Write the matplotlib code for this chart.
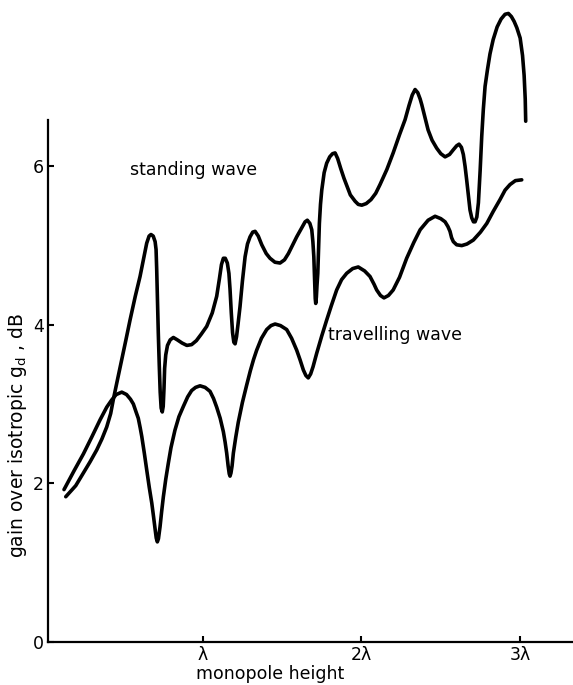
import matplotlib
matplotlib.use("Agg")
import matplotlib.pyplot as plt

# monopole height in wavelengths, gain in dB
standing_x = [0.137, 0.20, 0.248, 0.29, 0.332, 0.365, 0.395, 0.42, 0.437, 0.46,
              0.49, 0.515, 0.542, 0.575, 0.605, 0.628, 0.647, 0.662, 0.674, 0.688,
              0.700, 0.706, 0.710, 0.715, 0.720, 0.726, 0.732, 0.738, 0.745, 0.751,
              0.756, 0.760, 0.767, 0.778, 0.795, 0.815, 0.84, 0.87, 0.90, 0.93,
              0.96, 0.99, 1.025, 1.06, 1.088, 1.105, 1.118, 1.13, 1.142, 1.155,
              1.165, 1.172, 1.180, 1.188, 1.196, 1.204, 1.213, 1.222, 1.235, 1.25,
              1.267, 1.282, 1.298, 1.315, 1.33, 1.35, 1.372, 1.40, 1.424, 1.455,
              1.487, 1.515, 1.54, 1.565, 1.592, 1.625, 1.645, 1.659, 1.675, 1.687,
              1.694, 1.70, 1.705, 1.709, 1.712, 1.716, 1.720, 1.725, 1.730, 1.735,
              1.742, 1.75, 1.765, 1.781, 1.80, 1.818, 1.834, 1.85, 1.87, 1.89,
              1.907, 1.93, 1.96, 1.98, 2.002, 2.03, 2.06, 2.09, 2.117, 2.16,
              2.20, 2.24, 2.275, 2.30, 2.32, 2.338, 2.355, 2.37, 2.38, 2.40,
              2.42, 2.445, 2.474, 2.50, 2.527, 2.555, 2.579, 2.60, 2.615, 2.63,
              2.642, 2.653, 2.663, 2.674, 2.684, 2.695, 2.706, 2.716, 2.727, 2.737,
              2.748, 2.758, 2.768, 2.779, 2.794, 2.81, 2.83, 2.855, 2.88, 2.905,
              2.926, 2.945, 2.962, 2.979, 3.00, 3.015, 3.025, 3.032, 3.035]
standing_y = [1.83, 1.97, 2.13, 2.27, 2.42, 2.56, 2.71, 2.88, 3.06, 3.28,
              3.56, 3.80, 4.06, 4.36, 4.61, 4.84, 5.03, 5.12, 5.14, 5.12,
              5.05, 4.95, 4.70, 4.30, 3.90, 3.50, 3.15, 2.95, 2.90, 2.97,
              3.20, 3.45, 3.62, 3.74, 3.81, 3.84, 3.81, 3.77, 3.74, 3.75,
              3.80, 3.88, 3.98, 4.15, 4.36, 4.58, 4.76, 4.84, 4.84, 4.78,
              4.65, 4.45, 4.15, 3.90, 3.78, 3.76, 3.85, 4.00, 4.23, 4.55,
              4.86, 5.02, 5.11, 5.17, 5.18, 5.12, 5.01, 4.90, 4.84, 4.79,
              4.78, 4.82, 4.90, 5.00, 5.11, 5.23, 5.30, 5.32, 5.28, 5.20,
              5.05, 4.86, 4.55, 4.33, 4.27, 4.35, 4.50, 4.65, 4.95, 5.28,
              5.52, 5.70, 5.92, 6.04, 6.12, 6.16, 6.17, 6.10, 5.97, 5.85,
              5.76, 5.64, 5.56, 5.52, 5.51, 5.53, 5.58, 5.66, 5.77, 5.96,
              6.17, 6.40, 6.59, 6.77, 6.90, 6.97, 6.93, 6.85, 6.78, 6.62,
              6.46, 6.33, 6.23, 6.16, 6.12, 6.15, 6.21, 6.26, 6.28, 6.24,
              6.15, 6.00, 5.83, 5.63, 5.45, 5.35, 5.30, 5.30, 5.36, 5.54,
              5.95, 6.38, 6.72, 7.01, 7.22, 7.42, 7.60, 7.76, 7.86, 7.92,
              7.93, 7.89, 7.83, 7.75, 7.62, 7.40, 7.15, 6.85, 6.57]

travelling_x = [0.126, 0.19, 0.248, 0.30, 0.353, 0.395, 0.426, 0.455, 0.49, 0.52,
                0.545, 0.563, 0.58, 0.594, 0.606, 0.616, 0.632, 0.647, 0.663, 0.679,
                0.690, 0.70, 0.707, 0.714, 0.721, 0.731, 0.741, 0.752, 0.767, 0.783,
                0.80, 0.825, 0.85, 0.878, 0.905, 0.93, 0.955, 0.983, 1.015, 1.046,
                1.068, 1.088, 1.11, 1.13, 1.141, 1.151, 1.16, 1.167, 1.172, 1.178,
                1.185, 1.193, 1.208, 1.224, 1.25, 1.277, 1.30, 1.32, 1.34, 1.37,
                1.403, 1.43, 1.456, 1.49, 1.529, 1.56, 1.592, 1.613, 1.634, 1.65,
                1.665, 1.68, 1.695, 1.718, 1.75, 1.781, 1.81, 1.844, 1.875, 1.907,
                1.945, 1.98, 2.02, 2.054, 2.08, 2.096, 2.12, 2.142, 2.17, 2.20,
                2.24, 2.285, 2.33, 2.37, 2.42, 2.464, 2.50, 2.527, 2.545, 2.558,
                2.568, 2.579, 2.60, 2.632, 2.665, 2.705, 2.75, 2.79, 2.83, 2.873,
                2.905, 2.936, 2.97, 3.01]
travelling_y = [1.92, 2.16, 2.37, 2.58, 2.80, 2.96, 3.05, 3.12, 3.15, 3.12,
                3.06, 3.00, 2.90, 2.82, 2.70, 2.59, 2.38, 2.17, 1.95, 1.75,
                1.58, 1.42, 1.31, 1.26, 1.30, 1.45, 1.64, 1.83, 2.05, 2.25,
                2.45, 2.67, 2.84, 2.97, 3.09, 3.17, 3.21, 3.23, 3.21, 3.16,
                3.07, 2.96, 2.82, 2.65, 2.52, 2.38, 2.22, 2.12, 2.09, 2.13,
                2.22, 2.38, 2.58, 2.77, 3.02, 3.24, 3.42, 3.56, 3.68, 3.83,
                3.94, 3.99, 4.01, 3.99, 3.94, 3.83, 3.68, 3.56, 3.43, 3.36,
                3.33, 3.38, 3.47, 3.64, 3.86, 4.06, 4.24, 4.44, 4.57, 4.65,
                4.71, 4.73, 4.68, 4.61, 4.51, 4.44, 4.37, 4.34, 4.37, 4.44,
                4.60, 4.84, 5.04, 5.20, 5.32, 5.37, 5.34, 5.30, 5.24, 5.18,
                5.10, 5.05, 5.01, 5.00, 5.02, 5.07, 5.17, 5.28, 5.43, 5.58,
                5.70, 5.77, 5.82, 5.83]

y_ticks = [0, 2, 4, 6]
x_ticks = [1, 2, 3]
x_tick_labels = ["λ", "2λ", "3λ"]

W, H = 573, 685
fig = plt.figure(figsize=(W / 100, H / 100), dpi=100)
ax = fig.add_axes([48.3 / W, (H - 641.7) / H, (W - 48.3) / W, 641.7 / H])

line_kw = dict(color="black", linewidth=2.6, solid_joinstyle="round", solid_capstyle="round")
ax.plot(standing_x, standing_y, **line_kw)
ax.plot(travelling_x, travelling_y, **line_kw)

ax.set_xlim(0.027, 3.333)
ax.set_ylim(0, 8.10)

for side in ["top", "right"]:
    ax.spines[side].set_visible(False)
for side in ["left", "bottom"]:
    ax.spines[side].set_linewidth(1.6)
ax.spines["left"].set_bounds(0, 6.59)

ax.set_xticks(x_ticks)
ax.set_xticklabels(x_tick_labels)
ax.set_yticks(y_ticks)
ax.tick_params(direction="in", length=4, width=1.5, labelsize=12.5, pad=3)

ax.text(0.54, 5.96, "standing wave", fontsize=12.5, ha="left", va="center")
ax.text(1.79, 3.87, "travelling wave", fontsize=12.5, ha="left", va="center")

fig.text(18 / W, 1 - 436 / H, r"gain over isotropic $\mathregular{g_d}$ , dB",
         rotation=90, ha="center", va="center", fontsize=13.5)
fig.text(270 / W, 1 - 674 / H, "monopole height", ha="center", va="center", fontsize=12.5)

fig.savefig("out.png", dpi=100)
